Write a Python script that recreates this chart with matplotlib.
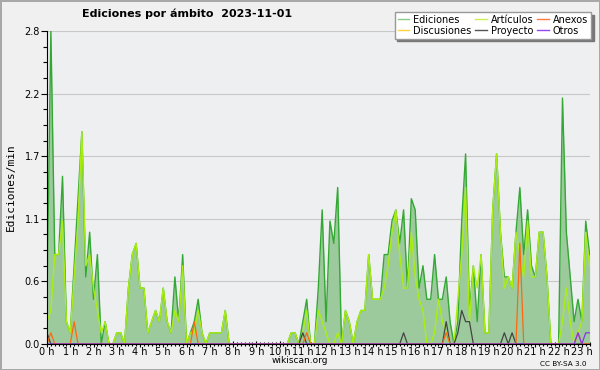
import numpy as np
import matplotlib
matplotlib.use("Agg")
import matplotlib.pyplot as plt
from matplotlib.lines import Line2D
from matplotlib.ticker import FixedLocator, MultipleLocator

# edits per minute, 10-minute bins from 00:00 to 23:20
ediciones = [0.4, 2.8, 0.8, 0.8, 1.5, 0.2, 0.1, 0.7, 1.3, 1.9,
             0.6, 1.0, 0.4, 0.8, 0.0, 0.2, 0.0, 0.0, 0.1, 0.1,
             0.0, 0.5, 0.8, 0.9, 0.5, 0.5, 0.1, 0.2, 0.3, 0.2,
             0.5, 0.2, 0.1, 0.6, 0.2, 0.8, 0.0, 0.1, 0.2, 0.4,
             0.1, 0.0, 0.1, 0.1, 0.1, 0.1, 0.3, 0.0, 0.0, 0.0,
             0.0, 0.0, 0.0, 0.0, 0.0, 0.0, 0.0, 0.0, 0.0, 0.0,
             0.0, 0.0, 0.0, 0.1, 0.1, 0.0, 0.2, 0.4, 0.0, 0.0,
             0.5, 1.2, 0.2, 1.1, 0.9, 1.4, 0.0, 0.3, 0.2, 0.0,
             0.2, 0.3, 0.3, 0.8, 0.4, 0.4, 0.4, 0.8, 0.8, 1.1,
             1.2, 0.9, 1.2, 0.5, 1.3, 1.2, 0.5, 0.7, 0.4, 0.4,
             0.8, 0.4, 0.4, 0.6, 0.2, 0.0, 0.2, 1.1, 1.7, 0.3,
             0.7, 0.2, 0.8, 0.1, 0.1, 1.2, 1.7, 1.0, 0.6, 0.6,
             0.5, 1.0, 1.4, 0.8, 1.2, 0.7, 0.6, 1.0, 1.0, 0.6,
             0.0, 0.0, 0.0, 2.2, 1.0, 0.6, 0.2, 0.4, 0.2, 1.1,
             0.8]
articulos = [0.2, 0.3, 0.8, 0.8, 1.1, 0.2, 0.1, 0.6, 1.1, 1.9,
             0.7, 0.8, 0.5, 0.3, 0.1, 0.2, 0.0, 0.0, 0.1, 0.1,
             0.0, 0.5, 0.8, 0.9, 0.5, 0.5, 0.1, 0.2, 0.3, 0.2,
             0.5, 0.2, 0.1, 0.3, 0.2, 0.7, 0.0, 0.1, 0.1, 0.3,
             0.1, 0.0, 0.1, 0.1, 0.1, 0.1, 0.3, 0.0, 0.0, 0.0,
             0.0, 0.0, 0.0, 0.0, 0.0, 0.0, 0.0, 0.0, 0.0, 0.0,
             0.0, 0.0, 0.0, 0.1, 0.1, 0.0, 0.1, 0.3, 0.0, 0.0,
             0.3, 0.2, 0.1, 0.0, 0.0, 0.1, 0.0, 0.3, 0.2, 0.0,
             0.2, 0.3, 0.3, 0.8, 0.4, 0.4, 0.4, 0.5, 0.7, 1.0,
             1.2, 0.8, 0.5, 0.5, 1.0, 0.6, 0.4, 0.3, 0.0, 0.0,
             0.1, 0.4, 0.2, 0.1, 0.0, 0.0, 0.4, 0.8, 1.4, 0.2,
             0.7, 0.5, 0.8, 0.1, 0.1, 1.2, 1.7, 1.0, 0.5, 0.6,
             0.5, 1.0, 0.8, 0.6, 1.1, 0.6, 0.6, 1.0, 1.0, 0.6,
             0.0, 0.0, 0.0, 0.2, 0.5, 0.2, 0.0, 0.1, 0.2, 1.0,
             0.7]
discusiones = [0.0] * 141
# sparse series: bin index -> value
anexos_pts = {1: 0.1, 7: 0.2, 38: 0.2, 67: 0.1, 103: 0.1, 122: 0.9, 137: 0.1}
proyecto_pts = {0: 0.1, 66: 0.1, 92: 0.1, 103: 0.2, 106: 0.1, 107: 0.3,
                108: 0.2, 109: 0.2, 118: 0.1, 120: 0.1}
otros_pts = {137: 0.1, 139: 0.1, 140: 0.1}

n = len(ediciones)
hours = np.arange(n) / 6.0

def sparse(pts):
    v = np.zeros(n)
    for k, val in pts.items():
        v[k] = val
    return v

anexos = sparse(anexos_pts)
proyecto = sparse(proyecto_pts)
otros = sparse(otros_pts)

BG = '#eeeff1'
fig = plt.figure(figsize=(6, 3.7), dpi=100, facecolor='#f0f0f0',
                 edgecolor='#a8a8a8', linewidth=2)
ax = fig.add_axes([47/600, 26/370, 543/600, 313/370])
ax.set_facecolor(BG)

ax.fill_between(hours, ediciones, color='#9dca9d', lw=0)
ax.plot(hours, ediciones, color='#33a833', lw=1.0)
ax.plot(hours, articulos, color='#aaee11', lw=1.0)
ax.plot(hours, discusiones, color='#ffd040', lw=0.9)
ax.plot(hours, proyecto, color='#444444', lw=0.9)
ax.plot(hours, anexos, color='#ff6611', lw=0.9)
ax.plot(hours, otros, color='#8833ee', lw=0.9)

ax.set_xlim(0, 23.35)
ax.set_ylim(0, 2.8)
yt = [0, 0.56, 1.12, 1.68, 2.24, 2.8]
ax.yaxis.set_major_locator(FixedLocator(yt))
ax.set_yticklabels(['%.1f' % v for v in yt])
ax.yaxis.set_minor_locator(MultipleLocator(0.14))
ax.set_xticks(range(24))
ax.set_xticklabels(['%d h' % h for h in range(24)])
ax.xaxis.set_minor_locator(MultipleLocator(1/6))
ax.grid(axis='y', color='#c8c8c8', lw=0.8)
ax.set_axisbelow(True)
for s in ['top', 'right']:
    ax.spines[s].set_visible(False)
ax.tick_params(labelsize=7, length=4, width=0.8, pad=1)
ax.tick_params(axis='x', which='both', direction='inout', pad=0)
ax.tick_params(which='minor', length=3, width=0.8)
ax.set_ylabel('Ediciones/min', family='DejaVu Sans Mono', fontsize=8, labelpad=6)

fig.text(0.312, 0.962, 'Ediciones por ámbito  2023-11-01', ha='center', va='center',
         fontsize=8, fontweight='bold')
fig.text(0.5, 0.014, 'wikiscan.org', ha='center', va='bottom', fontsize=6.5)
fig.text(0.978, 0.009, 'CC BY-SA 3.0', ha='right', va='bottom', fontsize=5.2)

handles = [Line2D([], [], color='#88cc88', lw=1.0),
           Line2D([], [], color='#ffd040', lw=1.0),
           Line2D([], [], color='#ccee55', lw=1.0),
           Line2D([], [], color='#555555', lw=1.0),
           Line2D([], [], color='#ff7744', lw=1.0),
           Line2D([], [], color='#9944ee', lw=1.0)]
labels = ['Ediciones', 'Discusiones', 'Artículos', 'Proyecto', 'Anexos', 'Otros']
leg = fig.legend(handles, labels, ncol=3, loc='upper right',
                 bbox_to_anchor=(0.985, 0.968), fontsize=7, frameon=True,
                 fancybox=False, shadow={'color': '#777777', 'alpha': 1},
                 edgecolor='#999999', framealpha=1, handlelength=1.2,
                 handletextpad=0.4, columnspacing=0.4, labelspacing=0.1,
                 borderpad=0.3, borderaxespad=0)

fig.savefig('out.png', dpi=100, facecolor=fig.get_facecolor())
